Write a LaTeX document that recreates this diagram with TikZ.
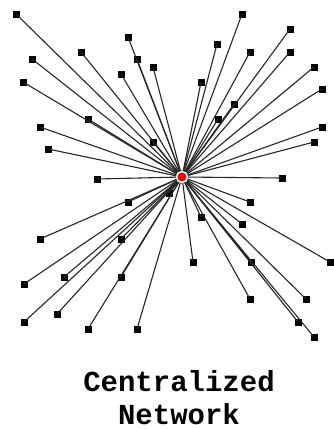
\documentclass[tikz,border=0pt]{standalone}
\usepackage{fontspec}
\setmonofont{Liberation Mono}
\usepackage{xcolor}
\usepackage{tikz}

\tikzset{
  leaf/.style={rectangle,fill=black,inner sep=0pt,minimum size=7pt},
  hub/.style={circle,fill=red,draw=black!60,double=white,double distance=1.3pt,inner sep=0pt,minimum size=11pt},
  spoke/.style={draw=black!85,line width=1.1pt},
  caption/.style={anchor=base,inner sep=0pt,font=\fontsize{29}{35}\selectfont\ttfamily\bfseries}
}

\begin{document}
\begin{tikzpicture}[x=1pt,y=-1pt]
  \useasboundingbox (0,0) rectangle (334,429);
  \node[hub] (hub) at (182,177) {};
  % upper left
  \node[leaf] (n1) at (16,14) {};
  \node[leaf] (n2) at (81,52) {};
  \node[leaf] (n3) at (32,59) {};
  \node[leaf] (n4) at (128,37) {};
  \node[leaf] (n5) at (137,59) {};
  \node[leaf] (n6) at (153,67) {};
  \node[leaf] (n7) at (121,74) {};
  \node[leaf] (n8) at (23,82) {};
  \node[leaf] (n9) at (88,119) {};
  \node[leaf] (n10) at (40,127) {};
  \node[leaf] (n11) at (153,142) {};
  \node[leaf] (n12) at (48,149) {};
  \node[leaf] (n13) at (97,179) {};
  % upper right
  \node[leaf] (n14) at (242,14) {};
  \node[leaf] (n15) at (290,29) {};
  \node[leaf] (n16) at (217,44) {};
  \node[leaf] (n17) at (250,52) {};
  \node[leaf] (n18) at (290,52) {};
  \node[leaf] (n19) at (314,67) {};
  \node[leaf] (n20) at (322,89) {};
  \node[leaf] (n21) at (201,82) {};
  \node[leaf] (n22) at (234,104) {};
  \node[leaf] (n23) at (218,119) {};
  \node[leaf] (n24) at (322,127) {};
  \node[leaf] (n25) at (314,142) {};
  \node[leaf] (n26) at (282,178) {};
  % lower left
  \node[leaf] (n27) at (128,202) {};
  \node[leaf] (n28) at (40,239) {};
  \node[leaf] (n29) at (121,239) {};
  \node[leaf] (n30) at (24,284) {};
  \node[leaf] (n31) at (64,277) {};
  \node[leaf] (n32) at (121,277) {};
  \node[leaf] (n33) at (24,322) {};
  \node[leaf] (n34) at (57,314) {};
  \node[leaf] (n35) at (88,329) {};
  \node[leaf] (n36) at (137,329) {};
  \node[leaf] (n37) at (169,193) {};
  % lower right
  \node[leaf] (n38) at (250,202) {};
  \node[leaf] (n39) at (201,217) {};
  \node[leaf] (n40) at (242,224) {};
  \node[leaf] (n41) at (193,262) {};
  \node[leaf] (n42) at (251,262) {};
  \node[leaf] (n43) at (330,262) {};
  \node[leaf] (n44) at (250,299) {};
  \node[leaf] (n45) at (306,299) {};
  \node[leaf] (n46) at (298,322) {};
  \node[leaf] (n47) at (314,337) {};
  % spokes
  \foreach \i in {1,...,47}
    \draw[spoke] (hub) -- (n\i.center);
  \node[hub] at (hub) {};
  % caption
  \node[caption] (cap1) at (179,391) {Centralized};
  \node[caption] (cap2) at (179,424) {Network};
\end{tikzpicture}
\end{document}
